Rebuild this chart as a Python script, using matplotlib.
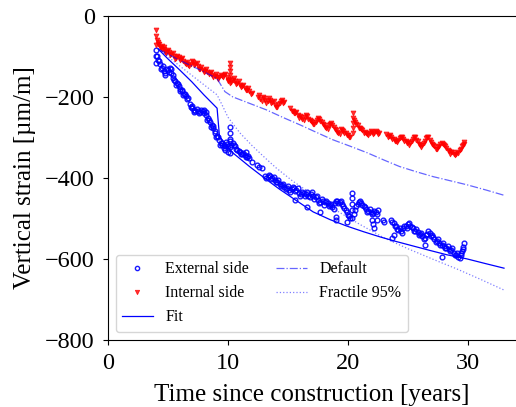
import matplotlib
matplotlib.use('Agg')
import matplotlib.pyplot as plt

plt.rcParams['font.family'] = ['Liberation Serif', 'DejaVu Serif']

# external side (blue circles) - main readings
t_ext = [4.0, 4.05, 4.05, 4.1, 4.2, 4.35, 4.5, 4.65, 4.8, 5.0, 5.15, 5.3, 5.45, 5.6, 5.75, 5.9,
         6.05, 6.2, 6.35, 6.5, 6.65, 6.85, 7.0, 7.15, 7.3, 7.5, 7.7, 7.9, 8.05, 8.2, 8.35,
         8.5, 8.65, 8.8, 8.95, 9.1, 9.25, 9.4, 9.55, 9.7, 9.85, 10.0, 10.15,
         10.2, 10.2, 10.2, 10.2, 10.2, 10.4, 10.6, 10.8, 11.0, 11.2, 11.4, 11.6, 11.8,
         11.5, 12.0, 12.4, 12.8, 13.1, 13.3, 13.5, 13.7, 13.9, 14.1, 14.3, 14.5, 14.7,
         14.9, 15.1, 15.3, 15.5, 15.7, 15.9, 16.1, 16.3, 16.5, 16.7, 16.9, 17.1, 17.3,
         17.5, 17.7, 17.9, 18.1, 18.3, 18.5, 18.7, 18.9, 19.1, 19.3, 19.5, 19.7, 19.9,
         20.1, 20.35, 20.35, 20.35, 20.35, 20.35, 20.5, 20.7, 20.9, 21.1, 21.3, 21.5,
         21.7, 21.9, 22.1, 22.3, 22.5, 22.0, 22.1, 22.2, 23.0, 23.6, 23.8, 24.0, 24.2,
         24.4, 24.6, 24.8, 25.0, 25.2, 25.4, 25.6, 25.8, 26.0, 26.2, 26.4, 26.6, 26.8,
         27.0, 27.2, 27.4, 27.6, 27.8, 28.0, 28.2, 28.4, 28.6, 28.8, 29.0, 29.2, 29.4,
         29.5, 29.6, 29.65, 23.7, 23.8, 15.6, 16.6, 17.7, 19.0, 19.0, 19.9, 22.4, 22.9,
         26.4, 27.8, 12.6, 9.8, 10.0]
s_ext = [-116, -85, -100, -100, -110, -120, -128, -135, -140, -134, -128, -140, -153, -160, -166, -174,
         -180, -186, -192, -198, -202, -218, -228, -232, -234, -236, -238, -236, -232, -244, -252,
         -262, -270, -278, -288, -296, -306, -314, -320, -318, -312, -322, -310,
         -275, -290, -305, -325, -338, -314, -322, -330, -336, -340, -343, -348, -351,
         -335, -360, -368, -375, -395, -398, -395, -400, -405, -410, -414, -418, -422,
         -426, -430, -428, -424, -430, -437, -440, -438, -440, -444, -440, -446, -448,
         -454, -460, -458, -460, -463, -468, -472, -462, -456, -460, -465, -475, -485,
         -495, -437, -450, -465, -480, -499, -490, -470, -460, -462, -470, -478,
         -482, -485, -488, -484, -480, -505, -515, -523, -510, -505, -512, -520, -528,
         -532, -525, -520, -515, -518, -525, -530, -534, -538, -544, -548, -538, -536,
         -542, -550, -555, -560, -565, -568, -572, -575, -578, -585, -590, -595, -590,
         -580, -570, -560, -548, -540, -454, -471, -484, -496, -504, -509, -504, -504,
         -565, -595, -372, -330, -335]
# external side - extra readings in between
t_ext_b = [4.3, 4.45, 4.6, 4.75, 4.9, 5.1, 5.25, 5.4, 5.55, 5.7, 5.85, 6.0, 6.15, 6.3, 6.45,
           6.6, 6.9, 7.05, 7.2, 7.4, 7.6, 7.8, 8.0, 8.15, 8.3, 8.45, 8.6, 8.75, 8.9, 9.05,
           9.2, 9.35, 9.5, 9.65, 9.8, 9.95, 10.3, 10.5, 10.7, 10.9, 11.1, 11.3, 11.5, 11.7,
           13.2, 13.4, 13.6, 13.8, 14.0, 14.2, 14.4, 14.6, 14.8, 15.0, 15.2, 15.4, 15.6,
           15.8, 16.0, 16.2, 16.4, 16.6, 16.8, 17.0, 17.2, 17.4, 17.6, 17.8, 18.0, 18.2,
           18.4, 18.6, 18.8, 19.0, 19.2, 19.4, 19.6, 19.8, 20.0, 20.2, 20.6, 20.8, 21.0,
           21.2, 21.4, 21.6, 21.8, 22.0, 22.2, 22.4, 23.7, 23.9, 24.1, 24.3, 24.5, 24.7,
           24.9, 25.1, 25.3, 25.5, 25.7, 25.9, 26.1, 26.3, 26.5, 26.7, 26.9, 27.1, 27.3,
           27.5, 27.7, 27.9, 28.1, 28.3, 28.5, 28.7, 28.9, 29.1, 29.3, 29.45, 29.55]
s_ext_b = [-112, -130, -124, -145, -132, -138, -132, -146, -158, -170, -168, -185, -182, -196, -194,
           -206, -224, -222, -238, -230, -240, -232, -240, -238, -256, -258, -274, -272, -284, -300,
           -300, -318, -314, -326, -322, -316, -320, -318, -328, -334, -342, -338, -348, -346,
           -400, -392, -402, -398, -410, -406, -420, -414, -428, -420, -434, -422, -432,
           -426, -444, -434, -446, -436, -448, -436, -452, -444, -462, -452, -466, -456,
           -470, -464, -476, -458, -462, -456, -470, -480, -492, -500, -480, -464, -456,
           -468, -472, -484, -478, -490, -482, -490, -510, -518, -526, -524, -536, -520,
           -524, -512, -522, -532, -526, -540, -536, -550, -542, -532, -544, -546, -558,
           -552, -566, -560, -574, -568, -580, -574, -590, -586, -598, -586, -576]

# internal side (red triangles) - main readings
t_int = [4.0, 4.05, 4.05, 4.1, 4.2, 4.35, 4.5, 4.65, 4.8, 4.95, 5.1, 5.3, 5.5, 5.7, 5.9,
         6.1, 6.3, 6.5, 6.7, 6.9, 7.1, 7.3, 7.5, 7.7, 7.9, 8.1, 8.3, 8.5, 8.7, 8.9, 9.1,
         9.3, 9.5, 9.7, 9.9, 10.05, 10.2, 10.2, 10.2, 10.2, 10.2, 10.2, 10.4, 10.6, 10.8,
         11.0, 11.2, 11.4, 11.6, 11.8, 12.0, 12.5, 12.7, 12.9, 13.1, 13.3, 13.5, 13.7,
         13.9, 14.1, 14.3, 14.5, 14.7, 15.2, 15.4, 15.6, 15.8, 16.0, 16.2, 16.4, 16.6,
         16.8, 17.0, 17.2, 17.4, 17.6, 17.8, 18.0, 18.2, 18.4, 18.6, 18.8, 19.0, 19.2,
         19.4, 19.6, 19.8, 20.0, 20.2, 20.4, 20.4, 20.4, 20.4, 20.4, 20.6, 20.8, 21.0,
         21.2, 21.4, 21.6, 21.8, 22.0, 22.2, 22.4, 22.6, 23.2, 23.4, 23.6, 23.8, 24.0,
         24.2, 24.4, 24.6, 24.8, 25.0, 25.2, 25.4, 25.6, 25.8, 26.0, 26.2, 26.4, 26.6,
         26.8, 27.0, 27.2, 27.4, 27.6, 27.8, 28.0, 28.2, 28.4, 28.6, 28.8, 29.0, 29.2,
         29.4, 29.6, 29.7]
s_int = [-72, -35, -50, -60, -70, -78, -74, -82, -88, -86, -90, -95, -100, -104, -102,
         -106, -112, -118, -121, -118, -115, -118, -124, -130, -133, -135, -138, -141, -145, -148, -151,
         -152, -148, -146, -152, -158, -116, -126, -136, -146, -156, -165, -158, -162, -166,
         -170, -174, -178, -182, -186, -190, -200, -205, -200, -207, -210, -208, -212,
         -220, -224, -215, -207, -212, -228, -235, -240, -244, -248, -255, -250, -248,
         -256, -262, -266, -258, -254, -262, -270, -276, -270, -265, -275, -282, -288,
         -280, -284, -290, -295, -298, -240, -252, -264, -276, -288, -262, -270, -278,
         -282, -286, -292, -288, -286, -290, -286, -290, -292, -296, -300, -305, -310,
         -306, -300, -304, -308, -312, -314, -304, -300, -310, -318, -320, -308, -298,
         -306, -316, -322, -328, -322, -314, -318, -326, -334, -336, -340, -342, -338,
         -328, -318, -312]
# internal side - extra readings in between
t_int_b = [4.15, 4.3, 4.4, 4.55, 4.7, 4.85, 5.0, 5.2, 5.4, 5.6, 5.8, 6.0, 6.2, 6.4, 6.6,
           6.8, 7.0, 7.2, 7.4, 7.6, 7.8, 8.0, 8.2, 8.4, 8.6, 8.8, 9.0, 9.2, 9.4, 9.6, 9.8,
           10.0, 10.3, 10.5, 10.7, 10.9, 11.1, 11.3, 11.5, 11.7, 11.9, 12.6, 12.8, 13.0,
           13.2, 13.4, 13.6, 13.8, 14.0, 14.2, 14.4, 14.6, 15.3, 15.5, 15.7, 15.9, 16.1,
           16.3, 16.5, 16.7, 16.9, 17.1, 17.3, 17.5, 17.7, 17.9, 18.1, 18.3, 18.5, 18.7,
           18.9, 19.1, 19.3, 19.5, 19.7, 19.9, 20.1, 20.5, 20.7, 20.9, 21.1, 21.3, 21.5,
           21.7, 21.9, 22.1, 22.3, 22.5, 23.3, 23.5, 23.7, 23.9, 24.1, 24.3, 24.5, 24.7,
           24.9, 25.1, 25.3, 25.5, 25.7, 25.9, 26.1, 26.3, 26.5, 26.7, 26.9, 27.1, 27.3,
           27.5, 27.7, 27.9, 28.1, 28.3, 28.5, 28.7, 28.9, 29.1, 29.3, 29.5, 29.65]
s_int_b = [-64, -70, -80, -82, -78, -92, -84, -96, -92, -106, -98, -110, -104, -116, -114,
           -124, -112, -122, -116, -130, -126, -138, -132, -144, -138, -150, -144, -156, -146, -152, -144,
           -160, -164, -154, -168, -162, -176, -170, -184, -178, -192, -196, -210, -204,
           -214, -204, -216, -210, -226, -218, -210, -214, -234, -240, -238, -252, -250,
           -258, -246, -254, -260, -268, -262, -252, -260, -268, -274, -280, -266, -270,
           -280, -286, -292, -282, -288, -294, -300, -258, -266, -276, -280, -288, -290,
           -294, -284, -292, -284, -292, -298, -294, -304, -310, -312, -302, -300, -308,
           -314, -318, -310, -300, -306, -316, -324, -314, -302, -300, -312, -318, -328,
           -324, -316, -316, -322, -332, -340, -336, -344, -336, -332, -322, -316]

# fit
t_fit = [4.2, 5, 6, 7, 8, 9.1, 9.3, 10.4, 11.8, 13.25, 14.3, 15.5, 17.1, 18.5, 19.9, 21.3,
         22.7, 24, 25.4, 26.8, 28.25, 29.9, 31.5, 33]
s_fit = [-82, -106, -134, -163, -195, -228, -298, -338, -372, -405, -428, -452, -484, -503,
         -519, -533, -546, -557, -568, -579, -590, -600, -612, -623]

# default
t_def = [4.2, 6, 8, 9.1, 9.75, 10.4, 11.8, 13.2, 14.6, 16, 17.4, 18.75, 20.2, 21.6, 23,
         24.3, 25.7, 27.1, 28.5, 29.9, 31.5, 33]
s_def = [-82, -110, -138, -155, -187, -200, -216, -232, -251, -269, -288, -306, -322, -338,
         -356, -372, -385, -397, -407, -417, -430, -443]

# fractile 95%
t_fra = [4.2, 6, 8, 9.1, 9.6, 10, 11, 12, 13, 14, 15.4, 17, 19, 21, 23, 25, 27, 29, 31, 33]
s_fra = [-82, -124, -170, -195, -225, -250, -289, -320, -348, -375, -408, -440, -480, -515,
         -548, -575, -600, -624, -650, -677]

fig = plt.figure(figsize=(5.16, 4.07), dpi=100)
ax = fig.add_axes([0.209, 0.165, 0.791, 0.796])

ax.plot(t_ext + t_ext_b, s_ext + s_ext_b, 'o', color='blue', mfc='none', ms=3.4, mew=1.0,
        alpha=0.9, label='External side')
ax.plot(t_int + t_int_b, s_int + s_int_b, 'v', color='red', ms=3.5, mew=0.6, alpha=0.8,
        label='Internal side')
ax.plot(t_fit, s_fit, '-', color='blue', lw=0.9, label='Fit')
ax.plot(t_def, s_def, '-.', color='blue', lw=0.9, alpha=0.6, label='Default')
ax.plot(t_fra, s_fra, ':', color='blue', lw=0.9, alpha=0.5, label='Fractile 95%')

ax.set_xlim(0, 34)
ax.set_ylim(-800, 0)
ax.set_xticks([0, 10, 20, 30])
ax.set_yticks([0, -200, -400, -600, -800])
ax.spines['right'].set_visible(False)
ax.tick_params(labelsize=17.5, pad=6)
ax.set_xlabel('Time since construction [years]', fontsize=18, labelpad=7)
ax.set_ylabel('Vertical strain [µm/m]', fontsize=18, labelpad=6)

ax.legend(loc='lower left', ncol=2, fontsize=11.5, handlelength=1.9,
          columnspacing=1.7, markerscale=0.9)

fig.savefig('out.png', dpi=100)
